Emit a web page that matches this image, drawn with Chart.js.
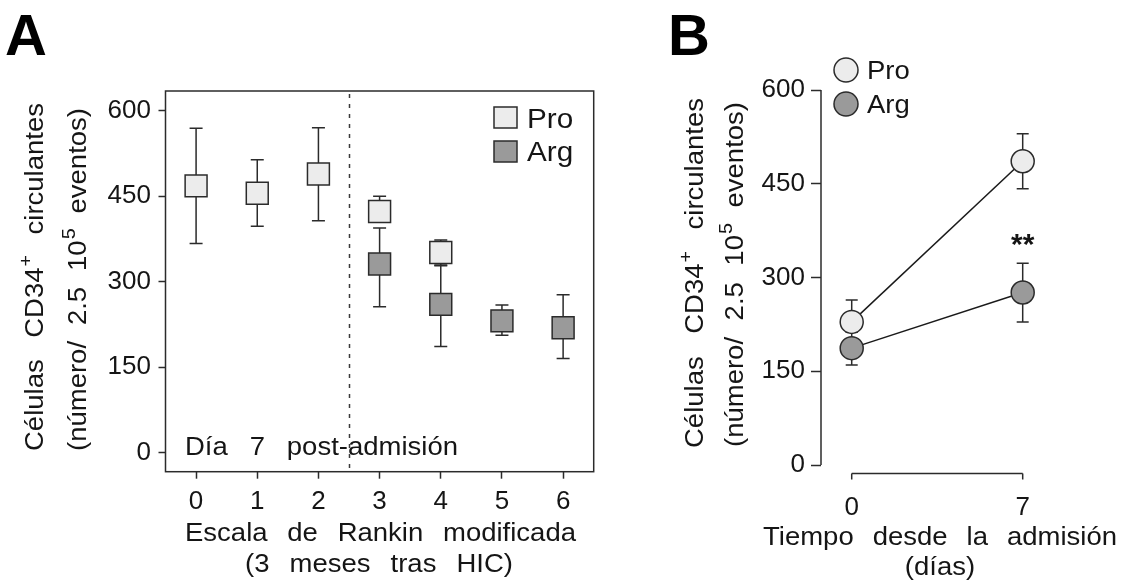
<!DOCTYPE html>
<html><head><meta charset="utf-8">
<script src="https://cdn.jsdelivr.net/npm/chart.js@4"></script>
<style>
html,body{margin:0;padding:0;background:#fff;}
#wrap{position:relative;width:1122px;height:582px;overflow:hidden;background:#fff;}
#ca{position:absolute;left:0;top:0;}
#cb{position:absolute;left:620px;top:0;}
</style></head><body>
<div id="wrap"><canvas id="ca" width="620" height="582"></canvas><canvas id="cb" width="502" height="582"></canvas></div>
<script>
// ---------- Panel A data ----------
const rankin = [0, 1, 2, 3, 4, 5, 6];
const proMeanA = [468, 455, 489, 423, 351, null, null];
const proHighA = [569, 514, 570, 450, 373, null, null];
const proLowA  = [367, 397, 407, 405, 329, null, null];
const argMeanA = [null, null, null, 331, 260, 231, 219];
const argHighA = [null, null, null, 394, 328, 259, 277];
const argLowA  = [null, null, null, 256, 186, 206, 165];
const yTicksA = [0, 150, 300, 450, 600];
const xTicksA = [0, 1, 2, 3, 4, 5, 6];
const dividerA = 2.5;

// ---------- Panel B data ----------
const days = [0, 7];
const proMeanB = [229, 486];
const proHighB = [264, 530];
const proLowB  = [213, 442];
const argMeanB = [187, 276];
const argHighB = [213, 323];
const argLowB  = [160, 229];
const yTicksB = [0, 150, 300, 450, 600];
const xTicksB = [0, 7];
const sigDay = 7, sigValue = 357, sigText = '**';

const FAM = "'Liberation Sans', Arial, Helvetica, sans-serif";
const INK = '#151515';
const EDGE = '#2b2b2b';
const PRO_FILL = '#ececec';
const ARG_FILL = '#9a9a9a';
const SX = 1.1; // horizontal widening of the printed lettering

function pts(xs, ys, hi, lo) {
  const out = [];
  xs.forEach((x, i) => { if (ys[i] != null) out.push({x: x, y: ys[i], hi: hi[i], lo: lo[i]}); });
  return out;
}

function wideText(ctx, t, x, y) {
  ctx.save();
  ctx.translate(x, y);
  ctx.scale(SX, 1);
  ctx.fillText(t, 0, 0);
  ctx.restore();
}

function drawWords(ctx, words, x0, x1, y, size) {
  const base = size + 'px ' + FAM, sup = Math.round(size * 0.72) + 'px ' + FAM;
  const widths = words.map(w => w.reduce((a, p) => { ctx.font = p[1] ? sup : base; return a + SX * ctx.measureText(p[0]).width; }, 0));
  const total = widths.reduce((a, b) => a + b, 0);
  const gap = words.length > 1 ? (x1 - x0 - total) / (words.length - 1) : 0;
  let x = words.length > 1 ? x0 : (x0 + x1 - total) / 2;
  ctx.textBaseline = 'alphabetic';
  ctx.textAlign = 'left';
  words.forEach((w, i) => {
    let cx = x;
    w.forEach(p => {
      ctx.font = p[1] ? sup : base;
      wideText(ctx, p[0], cx + (p[1] ? 1 : 0), p[1] ? y - size * 0.45 : y);
      cx += SX * ctx.measureText(p[0]).width;
    });
    x += widths[i] + gap;
  });
}
function drawVertical(ctx, words, bx, yBottom, yTop, size) {
  ctx.save();
  ctx.translate(bx, 0);
  ctx.rotate(-Math.PI / 2);
  drawWords(ctx, words, -yBottom, -yTop, 0, size);
  ctx.restore();
}

const titleL1 = [[['Células']], [['CD34'], ['+', true]], [['circulantes']]];
const titleL2 = [[['(número/']], [['2.5']], [['10'], ['5', true]], [['eventos)']]];

const errorBars = {
  id: 'errorBars',
  beforeDatasetsDraw(chart, args, opts) {
    const ctx = chart.ctx, xs = chart.scales.x, ys = chart.scales.y;
    ctx.save();
    ctx.strokeStyle = EDGE;
    ctx.lineWidth = 1.5;
    chart.data.datasets.forEach(ds => {
      ds.data.forEach(p => {
        const px = xs.getPixelForValue(p.x);
        const ph = ys.getPixelForValue(p.hi), pl = ys.getPixelForValue(p.lo);
        const c = opts.cap / 2;
        ctx.beginPath();
        ctx.moveTo(px, ph); ctx.lineTo(px, pl);
        ctx.moveTo(px - c, ph); ctx.lineTo(px + c, ph);
        ctx.moveTo(px - c, pl); ctx.lineTo(px + c, pl);
        ctx.stroke();
      });
    });
    ctx.restore();
  }
};

const decoA = {
  id: 'decoA',
  beforeDatasetsDraw(chart) {
    const ctx = chart.ctx, a = chart.chartArea, xs = chart.scales.x;
    ctx.save();
    ctx.strokeStyle = EDGE; ctx.lineWidth = 1.5;
    ctx.strokeRect(a.left, a.top, a.right - a.left, a.bottom - a.top);
    const dx = Math.round(xs.getPixelForValue(dividerA)) + 0.5;
    ctx.setLineDash([4, 6]);
    ctx.strokeStyle = '#3a3a3a';
    ctx.beginPath(); ctx.moveTo(dx, a.top + 3); ctx.lineTo(dx, a.bottom); ctx.stroke();
    ctx.setLineDash([]);
    ctx.restore();
  },
  afterDraw(chart) {
    const ctx = chart.ctx;
    ctx.save();
    ctx.fillStyle = '#000';
    ctx.font = 'bold 58px ' + FAM;
    ctx.textBaseline = 'alphabetic'; ctx.textAlign = 'left';
    ctx.fillText('A', 5, 55);
    ctx.fillStyle = INK;
    drawVertical(ctx, titleL1, 43, 451, 103, 25);
    drawVertical(ctx, titleL2, 86, 451, 108, 25);
    drawWords(ctx, [[['Escala']], [['de']], [['Rankin']], [['modificada']]], 185, 576, 540.5, 25);
    drawWords(ctx, [[['(3']], [['meses']], [['tras']], [['HIC)']]], 245, 513, 572, 25);
    drawWords(ctx, [[['Día']], [['7']], [['post-admisión']]], 185, 458, 455, 25);
    const items = [['Pro', PRO_FILL, 117.5, 128.3], ['Arg', ARG_FILL, 151.5, 161]];
    items.forEach(it => {
      ctx.fillStyle = it[1];
      ctx.fillRect(494, it[2] - 10.5, 23, 21);
      ctx.strokeStyle = EDGE; ctx.lineWidth = 1.5;
      ctx.strokeRect(494, it[2] - 10.5, 23, 21);
      ctx.fillStyle = INK;
      ctx.font = '27px ' + FAM;
      ctx.textAlign = 'left'; ctx.textBaseline = 'alphabetic';
      wideText(ctx, it[0], 527, it[3]);
    });
    ctx.restore();
  }
};

const OFFB = 620;
const decoB = {
  id: 'decoB',
  beforeDatasetsDraw(chart) {
    const ctx = chart.ctx, a = chart.chartArea, xs = chart.scales.x, ys = chart.scales.y;
    ctx.save();
    ctx.strokeStyle = EDGE; ctx.lineWidth = 1.5;
    ctx.beginPath();
    ctx.moveTo(a.left, ys.getPixelForValue(yTicksB[0]));
    ctx.lineTo(a.left, ys.getPixelForValue(yTicksB[yTicksB.length - 1]));
    ctx.stroke();
    const yAx = ys.getPixelForValue(yTicksB[0]) + 8.5;
    const x0 = xs.getPixelForValue(xTicksB[0]), x1 = xs.getPixelForValue(xTicksB[xTicksB.length - 1]);
    ctx.beginPath();
    ctx.moveTo(x0, yAx); ctx.lineTo(x1, yAx);
    xTicksB.forEach(v => { const px = xs.getPixelForValue(v); ctx.moveTo(px, yAx); ctx.lineTo(px, yAx + 6); });
    ctx.stroke();
    ctx.restore();
  },
  afterDraw(chart) {
    const ctx = chart.ctx, xs = chart.scales.x, ys = chart.scales.y;
    ctx.save();
    ctx.fillStyle = '#000';
    ctx.font = 'bold 58px ' + FAM;
    ctx.textBaseline = 'alphabetic'; ctx.textAlign = 'left';
    ctx.fillText('B', 668 - OFFB, 55);
    ctx.fillStyle = INK;
    drawVertical(ctx, titleL1, 703 - OFFB, 448, 98, 25);
    drawVertical(ctx, titleL2, 743 - OFFB, 447, 102, 25);
    drawWords(ctx, [[['Tiempo']], [['desde']], [['la']], [['admisión']]], 763 - OFFB, 1117 - OFFB, 545, 25);
    drawWords(ctx, [[['(días)']]], 900 - OFFB, 980 - OFFB, 575, 25);
    ctx.font = 'bold 30px ' + FAM;
    ctx.textAlign = 'center'; ctx.textBaseline = 'middle';
    ctx.fillText(sigText, xs.getPixelForValue(sigDay), ys.getPixelForValue(sigValue) + 4);
    const items = [['Pro', PRO_FILL, 70, 79.3], ['Arg', ARG_FILL, 104, 113.3]];
    items.forEach(it => {
      ctx.beginPath();
      ctx.arc(846 - OFFB, it[2], 12, 0, Math.PI * 2);
      ctx.fillStyle = it[1]; ctx.fill();
      ctx.strokeStyle = EDGE; ctx.lineWidth = 1.5; ctx.stroke();
      ctx.fillStyle = INK;
      ctx.font = '25px ' + FAM;
      ctx.textAlign = 'left'; ctx.textBaseline = 'alphabetic';
      wideText(ctx, it[0], 867 - OFFB, it[3]);
    });
    ctx.restore();
  }
};

const tickFont = {family: FAM, size: 26};

new Chart(document.getElementById('ca'), {
  type: 'scatter',
  data: {
    datasets: [
      {label: 'Pro', data: pts(rankin, proMeanA, proHighA, proLowA), pointStyle: 'rect', pointRadius: 15.5, pointHoverRadius: 15.5,
       backgroundColor: PRO_FILL, borderColor: EDGE, borderWidth: 1.5, clip: false},
      {label: 'Arg', data: pts(rankin, argMeanA, argHighA, argLowA), pointStyle: 'rect', pointRadius: 15.5, pointHoverRadius: 15.5,
       backgroundColor: ARG_FILL, borderColor: EDGE, borderWidth: 1.5, clip: false}
    ]
  },
  options: {
    responsive: false, animation: false, events: [],
    layout: {padding: {left: 0, top: 91, right: 26.3, bottom: 0}},
    plugins: {legend: {display: false}, tooltip: {enabled: false}, errorBars: {cap: 13}},
    scales: {
      x: {type: 'linear', min: -0.5, max: 6.5,
          afterBuildTicks: s => { s.ticks = xTicksA.map(v => ({value: v})); },
          afterFit: s => { s.height = 110.3; },
          grid: {display: true, drawOnChartArea: false, drawTicks: true, tickLength: 7, tickWidth: 1.5, tickColor: EDGE},
          border: {display: false},
          ticks: {font: tickFont, color: INK, padding: 8, maxRotation: 0, autoSkip: false}},
      y: {type: 'linear', min: -33.7, max: 634.6,
          afterBuildTicks: s => { s.ticks = yTicksA.map(v => ({value: v})); },
          afterFit: s => { s.width = 165.5; },
          grid: {display: true, drawOnChartArea: false, drawTicks: true, tickLength: 7, tickWidth: 1.5, tickColor: EDGE},
          border: {display: false},
          ticks: {font: tickFont, color: INK, padding: 7.5, autoSkip: false}}
    }
  },
  plugins: [errorBars, decoA]
});

new Chart(document.getElementById('cb'), {
  type: 'scatter',
  data: {
    datasets: [
      {label: 'Pro', data: pts(days, proMeanB, proHighB, proLowB), showLine: true, pointStyle: 'circle', pointRadius: 11.5, pointHoverRadius: 11.5,
       backgroundColor: PRO_FILL, pointBackgroundColor: PRO_FILL, borderColor: '#1a1a1a', pointBorderColor: EDGE, borderWidth: 1.5, pointBorderWidth: 1.5, clip: false},
      {label: 'Arg', data: pts(days, argMeanB, argHighB, argLowB), showLine: true, pointStyle: 'circle', pointRadius: 11.5, pointHoverRadius: 11.5,
       backgroundColor: ARG_FILL, pointBackgroundColor: ARG_FILL, borderColor: '#1a1a1a', pointBorderColor: EDGE, borderWidth: 1.5, pointBorderWidth: 1.5, clip: false}
    ]
  },
  options: {
    responsive: false, animation: false, events: [],
    layout: {padding: {left: 0, top: 90, right: 62, bottom: 0}},
    plugins: {legend: {display: false}, tooltip: {enabled: false}, errorBars: {cap: 12}},
    scales: {
      x: {type: 'linear', min: -1.257, max: 8.527,
          afterBuildTicks: s => { s.ticks = xTicksB.map(v => ({value: v})); },
          afterFit: s => { s.height = 117; },
          grid: {display: false},
          border: {display: false},
          ticks: {font: tickFont, color: INK, padding: 19.5, maxRotation: 0, autoSkip: false}},
      y: {type: 'linear', min: 0, max: 600,
          afterBuildTicks: s => { s.ticks = yTicksB.map(v => ({value: v})); },
          afterFit: s => { s.width = 201; },
          grid: {display: true, drawOnChartArea: false, drawTicks: true, tickLength: 10, tickWidth: 1.5, tickColor: EDGE},
          border: {display: false},
          ticks: {font: tickFont, color: INK, padding: 6, autoSkip: false}}
    }
  },
  plugins: [errorBars, decoB]
});
</script>
</body></html>
